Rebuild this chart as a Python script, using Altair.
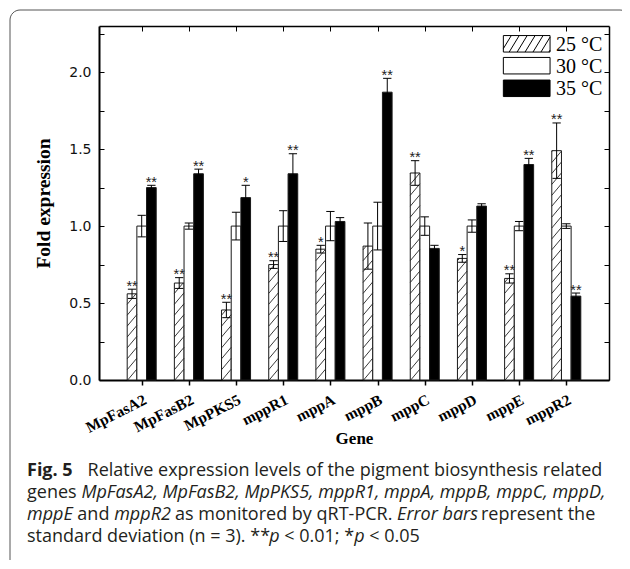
import json
import numpy as np
import pandas as pd
import altair as alt

# ---------------- data ----------------
genes = ["MpFasA2", "MpFasB2", "MpPKS5", "mppR1", "mppA",
         "mppB", "mppC", "mppD", "mppE", "mppR2"]
temps = ["25 °C", "30 °C", "35 °C"]

fold_25 = [0.56, 0.63, 0.455, 0.75, 0.85, 0.87, 1.345, 0.79, 0.66, 1.49]
sd_25 = [0.03, 0.035, 0.05, 0.025, 0.025, 0.15, 0.08, 0.025, 0.03, 0.18]
sig_25 = ["**", "**", "**", "**", "*", "", "**", "*", "**", "**"]

fold_30 = [1.0, 1.0, 1.0, 1.0, 1.0, 1.0, 1.0, 1.0, 1.0, 1.0]
sd_30 = [0.07, 0.02, 0.09, 0.10, 0.095, 0.155, 0.06, 0.04, 0.03, 0.015]
sig_30 = ["", "", "", "", "", "", "", "", "", ""]

fold_35 = [1.25, 1.34, 1.185, 1.34, 1.03, 1.87, 0.855, 1.13, 1.40, 0.545]
sd_35 = [0.015, 0.03, 0.08, 0.13, 0.025, 0.09, 0.02, 0.015, 0.04, 0.02]
sig_35 = ["**", "**", "*", "**", "", "**", "", "", "**", "**"]

y_label_values = [0.0, 0.5, 1.0, 1.5, 2.0]
y_tick_values = [0.0, 0.25, 0.5, 0.75, 1.0, 1.25, 1.5, 1.75, 2.0, 2.25]

rows = []
for ti, (t, vals, sds, sigs) in enumerate(zip(
        temps, [fold_25, fold_30, fold_35], [sd_25, sd_30, sd_35],
        [sig_25, sig_30, sig_35])):
    for gi, g in enumerate(genes):
        rows.append(dict(gene=g, gi=gi, temp=t, ti=ti, value=vals[gi],
                         sd=sds[gi], sig=sigs[gi]))
df = pd.DataFrame(rows)

# ---------------- layout constants ----------------
W, H = 510, 354
XMIN, XMAX = -0.905, 9.905
YMAX = 2.3
BW = 0.205          # bar width in category units
CAP = 0.088         # half cap width in category units
PX_PER_Y = H / YMAX
R = 11.5 / PX_PER_Y  # hatch rise across bar width (data units)
S = 10.9 / PX_PER_Y  # hatch vertical spacing (data units)
OX, OY = 99, 26      # plot origin on the page

SERIF = "Liberation Serif"
SANS = "DejaVu Sans"
bar_fills = ["white", "white", "black"]

xscale = alt.Scale(domain=[XMIN, XMAX], nice=False, zero=False)
yscale = alt.Scale(domain=[0, YMAX], nice=False, zero=False)

# legend symbol paths (unit square -1..1 scaled by sqrt(size)/2)
SYM_W = 46.7
SYM_H = 16.5
hh = SYM_H / SYM_W
rect_path = f"M-1,{-hh:.4f}H1V{hh:.4f}H-1Z"
segs = []
run = 0.43
step = 0.34
c = -1 - run
while c < 1:
    x0, y0, x1, y1 = c, hh, c + run, -hh
    def at(x):
        return y0 + (y1 - y0) * (x - x0) / (x1 - x0)
    ax, ay, bx, by = x0, y0, x1, y1
    if ax < -1:
        ax, ay = -1, at(-1)
    if bx > 1:
        bx, by = 1, at(1)
    if bx > ax:
        segs.append(f"M{ax:.4f},{ay:.4f}L{bx:.4f},{by:.4f}")
    c += step
hatch_path = rect_path + "".join(segs)
sym_paths = [hatch_path, rect_path, rect_path]

# ---------------- base ----------------
base = alt.Chart(df).transform_calculate(
    xc=f"datum.gi + (datum.ti - 1) * {BW}"
).transform_calculate(
    xl=f"datum.xc - {BW / 2}",
    xr=f"datum.xc + {BW / 2}",
    cl=f"datum.xc - {CAP}",
    cr=f"datum.xc + {CAP}",
    lo="datum.value - datum.sd",
    hi="datum.value + datum.sd",
)

label_expr = json.dumps(genes) + "[round(datum.value)]"

bottom_axis = alt.Axis(
    orient="bottom", values=list(range(10)), labelExpr=label_expr,
    labelAngle=333, labelFont=SERIF, labelFontWeight="bold", labelFontSize=15.5,
    labelColor="black", labelPadding=7, labelOverlap=False, labelBound=False,
    tickSize=5, tickWidth=1.5, tickColor="black",
    domainWidth=2, domainColor="black", title="Gene", titleFont=SERIF,
    titleFontWeight="bold", titleFontSize=17, titleColor="black",
    titleY=63, titleBaseline="alphabetic")
left_axis = alt.Axis(
    orient="left", values=y_label_values, format=".1f", ticks=False,
    labelFont=SANS, labelFontSize=14, labelColor="#111", labelPadding=8,
    domainWidth=2, domainColor="black", title="Fold expression",
    titleFont=SERIF, titleFontWeight="bold", titleFontSize=19.5,
    titleColor="black", titleX=-50, titleY=H / 2, titleBaseline="alphabetic")
top_axis = alt.Axis(
    orient="bottom", offset=-H, values=list(range(10)), labels=False,
    tickSize=5, tickWidth=1, tickColor="black", domainWidth=1.5,
    domainColor="black", title=None)
left_ticks_axis = alt.Axis(
    orient="right", offset=-W, values=y_tick_values, labels=False,
    tickSize=5, tickWidth=1, tickColor="black", domain=False, title=None)
right_axis = alt.Axis(
    orient="left", offset=-W, values=y_tick_values, labels=False,
    tickSize=5, tickWidth=1, tickColor="black", domainWidth=1.5,
    domainColor="black", title=None)

bar_layers = []
for ti in range(3):
    bar_layers.append(
        base.transform_filter(f"datum.ti == {ti}").mark_rect(
            stroke="#1a1a1a", strokeWidth=1, fill=bar_fills[ti]).encode(
            x=alt.X("xl:Q", scale=xscale,
                    axis=bottom_axis if ti == 0 else None),
            x2="xr:Q",
            y=alt.Y("value:Q", scale=yscale,
                    axis=left_axis if ti == 0 else None),
            y2=alt.datum(0),
        ))

hatch = base.transform_filter("datum.ti == 0").transform_calculate(
    ks=f"sequence(0, ceil((datum.value + {R}) / {S}) + 1)"
).transform_flatten(["ks"]).transform_calculate(
    ys=f"datum.ks * {S} - {R}"
).transform_calculate(
    t0=f"max(0, -datum.ys / {R})",
    t1=f"min(1, (datum.value - datum.ys) / {R})",
).transform_filter("datum.t1 > datum.t0").transform_calculate(
    xa=f"datum.xl + datum.t0 * {BW}",
    xb=f"datum.xl + datum.t1 * {BW}",
    ya=f"datum.ys + datum.t0 * {R}",
    yb=f"datum.ys + datum.t1 * {R}",
).mark_rule(stroke="#222", strokeWidth=0.9).encode(
    x=alt.X("xa:Q", scale=xscale, axis=top_axis),
    x2="xb:Q",
    y=alt.Y("ya:Q", scale=yscale, axis=left_ticks_axis),
    y2="yb:Q",
)

err = base.mark_rule(color="black", strokeWidth=1).encode(
    x=alt.X("xc:Q", scale=xscale, axis=None),
    y=alt.Y("lo:Q", scale=yscale, axis=right_axis),
    y2="hi:Q",
)
cap_hi = base.mark_rule(color="black", strokeWidth=1).encode(
    x=alt.X("cl:Q", scale=xscale, axis=None), x2="cr:Q",
    y=alt.Y("hi:Q", scale=yscale, axis=None),
)
cap_lo = base.mark_rule(color="black", strokeWidth=1).encode(
    x=alt.X("cl:Q", scale=xscale, axis=None), x2="cr:Q",
    y=alt.Y("lo:Q", scale=yscale, axis=None),
)

stars = base.transform_filter("datum.sig != ''").mark_text(
    font="Liberation Sans", fontSize=14.5, baseline="alphabetic", dy=1.5,
    color="#222").encode(
    x=alt.X("xc:Q", scale=xscale, axis=None),
    y=alt.Y("hi:Q", scale=yscale, axis=None),
    text="sig:N",
)

one = pd.DataFrame({"a": [0]})

# ---------------- legend (drawn in pixel space) ----------------
leg_sym_x = 526.7 - OX
leg_lab_x = 556 - OX
leg_row_y = [43.8 - OY, 65.7 - OY, 88.3 - OY]
legend_layers = []
for i, t in enumerate(temps):
    legend_layers.append(alt.Chart(one).mark_point(
        shape=sym_paths[i], size=SYM_W ** 2, filled=True, fill=bar_fills[i],
        stroke="black", strokeWidth=1, opacity=1).encode(
        x=alt.value(leg_sym_x), y=alt.value(leg_row_y[i])))
    legend_layers.append(alt.Chart(one).mark_text(
        text=t, font=SERIF, fontSize=20, align="left", baseline="middle",
        color="black", dy=1).encode(
        x=alt.value(leg_lab_x), y=alt.value(leg_row_y[i])))

# ---------------- frame ----------------
border = alt.Chart(one).mark_rect(
    fillOpacity=0, stroke="#555", strokeWidth=1, cornerRadius=10).encode(
    x=alt.value(10 - OX), x2=alt.value(630 - OX),
    y=alt.value(10 - OY), y2=alt.value(620 - OY))

# ---------------- caption ----------------
CAP_FONT = "Open Sans"
CAP_SIZE = 18
ADV = {' ': .26, 'a': .556, 'b': .613, 'c': .476, 'd': .613, 'e': .561,
       'f': .339, 'g': .548, 'h': .614, 'i': .253, 'j': .253, 'k': .525,
       'l': .253, 'm': .93, 'n': .614, 'o': .604, 'p': .613, 'q': .613,
       'r': .408, 's': .477, 't': .353, 'u': .614, 'v': .501, 'w': .778,
       'x': .524, 'y': .502, 'z': .477, 'A': .633, 'B': .648, 'C': .631,
       'D': .729, 'E': .556, 'F': .516, 'K': .59, 'M': .903, 'P': .604,
       'R': .613, 'S': .539, 'T': .542, '.': .266, ',': .245, '(': .271,
       ')': .271, '=': .572, '<': .572, ';': .266, '*': .547, '-': .322}
STYLE_K = {"normal": 1.0, "italic": 0.936, "bold": 1.07}


def text_w(txt, style):
    em = sum(ADV.get(ch, .572 if ch.isdigit() else .55) for ch in txt)
    return em * CAP_SIZE * STYLE_K[style]


cap_lines = [
    [("Fig. 5", "bold"), ("   ", "normal"),
     ("Relative expression levels of the pigment biosynthesis related", "normal")],
    [("genes ", "normal"),
     ("MpFasA2, MpFasB2, MpPKS5, mppR1, mppA, mppB, mppC, mppD,", "italic")],
    [("mppE", "italic"), (" and ", "normal"), ("mppR2", "italic"),
     (" as monitored by qRT-PCR. ", "normal"), ("Error bars", "italic"),
     (" represent the", "normal")],
    [("standard deviation (n = 3). **", "normal"), ("p", "italic"),
     (" < 0.01; *", "normal"), ("p", "italic"), (" < 0.05", "normal")],
]
CAP_X0 = 27
line_y = [476, 498, 520, 542]
cap_layers = []
for ln, segs_ in enumerate(cap_lines):
    xpos = CAP_X0
    for txt, style in segs_:
        lead = len(txt) - len(txt.lstrip(" "))
        xpos += text_w(" " * lead, "normal")
        body = txt.lstrip(" ")
        if body.strip():
            kw = dict(font=CAP_FONT, fontSize=CAP_SIZE, align="left",
                      baseline="alphabetic", color="#231f20", text=body)
            if style == "bold":
                kw["fontWeight"] = "bold"
            if style == "italic":
                kw["fontStyle"] = "italic"
            cap_layers.append(alt.Chart(one).mark_text(**kw).encode(
                x=alt.value(xpos - OX), y=alt.value(line_y[ln] - OY)))
        xpos += text_w(body, style)

chart = alt.layer(
    *bar_layers, hatch, err, cap_hi, cap_lo, stars, *legend_layers, border,
    *cap_layers
).resolve_axis(x="independent", y="independent").properties(
    width=W, height=H,
    padding={"left": OX - 8, "top": OY - 8, "right": 614 - (OX - 8) - W,
             "bottom": 180},
    autosize=alt.AutoSizeParams(type="none"),
).configure_view(stroke=None).configure_axis(grid=False)

chart.save("out.html", embed_options={"renderer": "svg", "actions": False})
